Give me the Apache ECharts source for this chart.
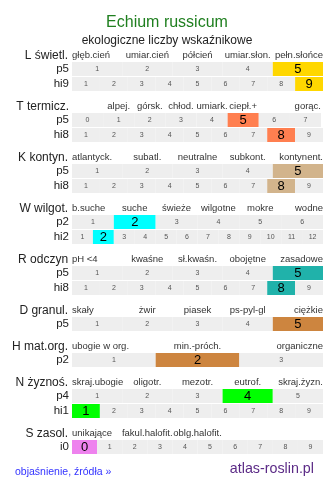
<!DOCTYPE html>
<html><head><meta charset="utf-8">
<script src="https://cdn.jsdelivr.net/npm/echarts@6/dist/echarts.min.js"></script>
<style>html,body{margin:0;padding:0;background:#fff}#c{width:334px;height:484px}</style>
</head><body><div id="c"></div>
<script>
const titleText = 'Echium russicum';
const subtitleText = 'ekologiczne liczby wskaźnikowe';
const footerLeft = 'objaśnienie, źródła »';
const footerRight = 'atlas-roslin.pl';

const groupNames = ['L świetl.','T termicz.','K kontyn.','W wilgot.','R odczyn','D granul.','H mat.org.','N żyznoś.','S zasol.'];
const groupColors = ['#ffd700','#ff7f50','#d2b48c','#00ffff','#20b2aa','#cd853f','#cd853f','#00ff00','#ee82ee'];

const descL = ['głęb.cień','umiar.cień','półcień','umiar.słon.','pełn.słońce'];
const descT = ['','alpej.','górsk.','chłod.','umiark.','ciepł.+','','gorąc.'];
const descK = ['atlantyck.','subatl.','neutralne','subkont.','kontynent.'];
const descW = ['b.suche','suche','świeże','wilgotne','mokre','wodne'];
const descR = ['pH <4','kwaśne','sł.kwaśn.','obojętne','zasadowe'];
const descD = ['skały','żwir','piasek','ps-pyl-gl','ciężkie'];
const descH = ['ubogie w org.','min.-próch.','organiczne'];
const descN = ['skraj.ubogie','oligotr.','mezotr.','eutrof.','skraj.żyzn.'];
const descS = ['unikające','fakul.halofit.','oblg.halofit.','',''];
const groupDescriptors = [descL, descT, descK, descW, descR, descD, descH, descN, descS];

const scale1to5 = ['1','2','3','4','5'];
const scale0to7 = ['0','1','2','3','4','5','6','7'];
const scale1to9 = ['1','2','3','4','5','6','7','8','9'];
const scale1to6 = ['1','2','3','4','5','6'];
const scale1to12 = ['1','2','3','4','5','6','7','8','9','10','11','12'];
const scale1to3 = ['1','2','3'];
const scale0to9 = ['0','1','2','3','4','5','6','7','8','9'];

const rowLabels = ['p5','hi9','p5','hi8','p5','hi8','p2','hi2','p5','hi8','p5','p2','p4','hi1','i0'];
const rowValues = ['5','9','5','8','5','8','2','2','5','8','5','2','4','1','0'];
const rowScales = [scale1to5, scale1to9, scale0to7, scale1to9, scale1to5, scale1to9, scale1to6, scale1to12, scale1to5, scale1to9, scale1to5, scale1to3, scale1to5, scale1to9, scale0to9];
const rowGroup = [0,0,1,1,2,2,3,3,4,4,5,6,7,7,8];

const chart = echarts.init(document.getElementById('c'), null, {renderer:'canvas'});
const FONT = 'Liberation Sans, Arial, sans-serif';
const LEFT = 72, ROWH = 14, ROWSTEP = 15;
const grids = [], xAxes = [], yAxes = [], series = [];
let y0 = 47;
let r = 0;
for (let g = 0; g < groupNames.length; g++) {
  const rows = [];
  while (r < rowGroup.length && rowGroup[r] === g) { rows.push(r); r++; }
  rows.forEach((ri, k) => {
    const scale = rowScales[ri];
    const gi = grids.length;
    const w = scale.length === 8 ? 249 : 251;
    grids.push({left: LEFT, top: y0 + 15 + ROWSTEP * k, width: w, height: ROWH});
    const xi = xAxes.length;
    xAxes.push({type:'category', gridIndex: gi, data: scale, boundaryGap: true, show: false});
    if (k === 0) {
      const desc = groupDescriptors[g];
      const n = desc.length;
      const data = [];
      const texts = [];
      for (let j = 0; j <= 2 * n; j++) {
        let t = '', align = 'center';
        if (j === 0) { t = desc[0]; align = 'left'; }
        else if (j === 2 * n) { t = desc[n - 1]; align = 'right'; }
        else if (j % 2 === 1) { const i = (j - 1) / 2; if (i > 0 && i < n - 1) t = desc[i]; }
        texts.push(t);
        data.push({value: 'c' + j, textStyle: {align: align, verticalAlign: 'middle'}});
      }
      xAxes.push({
        type:'category', gridIndex: gi, position:'top', offset: 6.5, data: data, boundaryGap: false,
        axisLine:{show:false}, axisTick:{show:false}, splitLine:{show:false},
        axisLabel:{interval:0, fontSize:9.5, fontFamily:FONT, color:'#333', margin:0, verticalAlign:'middle',
          formatter: (v, idx) => texts[idx]},
        name: groupNames[g], nameLocation:'start', nameGap: 3,
        nameTextStyle:{fontSize:12, fontFamily:FONT, color:'#222', align:'right', verticalAlign:'middle'}
      });
    }
    const yi = yAxes.length;
    yAxes.push({type:'value', gridIndex: gi, min:0, max:1,
      axisLine:{show:false}, axisTick:{show:false}, axisLabel:{show:false}, splitLine:{show:false},
      name: rowLabels[ri], nameLocation:'middle', nameGap: 3, nameRotate: 0,
      nameTextStyle:{fontSize:11.5, fontFamily:FONT, color:'#222', align:'right', verticalAlign:'middle'}});
    const color = groupColors[g];
    series.push({
      type:'bar', xAxisIndex: xi, yAxisIndex: yi, barWidth:'100%', barCategoryGap: 0, silent: true,
      data: scale.map(s => {
        const hit = s === rowValues[ri];
        return {value: 1, itemStyle:{color: hit ? color : '#eeeeee'},
          label:{show:true, position:'inside', formatter: s, fontFamily: FONT,
            fontSize: hit ? 13 : 7, color: hit ? '#000' : '#555'}};
      })
    });
  });
  y0 += 15 + ROWSTEP * rows.length + 6;
}

chart.setOption({
  animation: false,
  backgroundColor: '#fff',
  title: [
    {text: titleText, left:'center', top: 10, textStyle:{fontSize:16, fontWeight:'normal', color:'#1f7f1f', fontFamily:FONT}},
    {text: subtitleText, left:'center', top: 30, textStyle:{fontSize:12, fontWeight:'normal', color:'#222', fontFamily:FONT}},
    {text: footerLeft, left: 10, top: 462, textStyle:{fontSize:10.5, fontWeight:'normal', color:'#3333ff', fontFamily:FONT}},
    {text: footerRight, right: 15, top: 457, textStyle:{fontSize:14.3, fontWeight:'normal', color:'#5b2a86', fontFamily:FONT}}
  ],
  grid: grids, xAxis: xAxes, yAxis: yAxes, series: series
});
</script></body></html>
